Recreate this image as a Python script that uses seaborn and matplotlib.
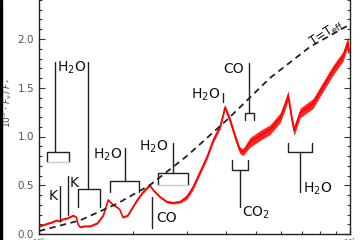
import numpy as np
import pandas as pd
import matplotlib
matplotlib.use("Agg")
import matplotlib.pyplot as plt
import seaborn as sns
from matplotlib.ticker import MultipleLocator, NullFormatter, FormatStrFormatter

# ---- data ----
spec_wl = [1.005, 1.05, 1.10, 1.14, 1.168, 1.19, 1.23, 1.27, 1.29, 1.32, 1.335, 1.355,
           1.40, 1.46, 1.54, 1.61, 1.67, 1.73, 1.79, 1.82, 1.86, 1.93, 2.07, 2.16,
           2.27, 2.33, 2.45, 2.58, 2.70, 2.84, 2.99, 3.13, 3.29, 3.47, 3.63, 3.82,
           3.91, 3.96, 4.11, 4.27, 4.42, 4.53, 4.77, 5.14, 5.53, 5.96, 6.18, 6.32,
           6.51, 6.61, 6.91, 7.61, 8.19, 8.82, 9.49, 9.85, 9.92]
spec_flux = [0.08, 0.10, 0.12, 0.14, 0.13, 0.15, 0.16, 0.18, 0.19, 0.17, 0.10, 0.07,
             0.08, 0.08, 0.11, 0.19, 0.35, 0.30, 0.27, 0.25, 0.17, 0.19, 0.35, 0.43,
             0.50, 0.45, 0.38, 0.33, 0.32, 0.33, 0.38, 0.48, 0.63, 0.79, 0.96, 1.10,
             1.22, 1.30, 1.17, 1.00, 0.86, 0.84, 0.94, 1.01, 1.07, 1.19, 1.32, 1.42,
             1.17, 1.06, 1.24, 1.34, 1.51, 1.68, 1.82, 1.97, 1.86]
spec_noise = [0.008] * 22 + [0.012] * 8 + [0.025] * 8 + [0.035] * 4 + [0.05] * 15

teff_wl = [1.0, 1.355, 1.78, 2.27, 2.99, 4.02, 5.53, 7.44, 10.0]
teff_val = [0.03, 0.14, 0.31, 0.50, 0.80, 1.17, 1.60, 1.92, 2.15]

# annotations: (left, right, bar, leg end, stem x, stem end)
brackets = [
    (1.061, 1.249, 0.84, 0.74, 1.126, 1.76),
    (1.335, 1.571, 0.46, 0.28, 1.437, 1.76),
    (1.69, 2.10, 0.54, 0.43, 1.89, 0.88),
    (2.41, 3.01, 0.63, 0.50, 2.70, 0.93),
    (4.59, 4.91, 1.24, 1.17, 4.73, 1.75),
    (4.17, 4.69, 0.66, 0.76, 4.42, 0.28),
    (6.33, 7.55, 0.84, 0.93, 6.90, 0.43),
]
gray_bottom = [0, 3]
lines = [(1.168, 0.13, 0.49), (1.24, 0.19, 0.59), (2.31, 0.06, 0.38), (3.91, 1.35, 1.45)]
labels = [
    ("H$_2$O", 1.277, 1.70, "center"),
    ("K", 1.109, 0.39, "center"),
    ("K", 1.296, 0.52, "center"),
    ("H$_2$O", 1.85, 0.81, "right"),
    ("CO", 2.38, 0.16, "left"),
    ("H$_2$O", 2.60, 0.89, "right"),
    ("H$_2$O", 3.82, 1.43, "right"),
    ("CO", 4.56, 1.69, "right"),
    ("CO$_2$", 4.49, 0.22, "left"),
    ("H$_2$O", 7.06, 0.46, "left"),
]

sns.set_style("ticks")
plt.rcParams['font.family'] = ['DejaVu Sans']

fig = plt.figure(figsize=(3.6, 2.4), dpi=100)
ax = fig.add_axes([39 / 360, 6 / 240, 311 / 360, 234 / 240])

df = pd.DataFrame({"wl": spec_wl, "flux": spec_flux})
lo = np.array(spec_flux) - np.array(spec_noise)
hi = np.array(spec_flux) + np.array(spec_noise)
ax.fill_between(spec_wl, lo, hi, color="red", lw=0, alpha=0.85)
sns.lineplot(data=df, x="wl", y="flux", color="red", lw=1.1, ax=ax, sort=False)
tdf = pd.DataFrame({"wl": teff_wl, "v": teff_val})
sns.lineplot(data=tdf, x="wl", y="v", color="#222222", lw=1.3, ls=(0, (3.5, 2.5)), ax=ax)

for i, (x0, x1, yb, yl, xs, ys) in enumerate(brackets):
    ax.plot([x0, x0, x1, x1], [yl, yb, yb, yl], color="#222222", lw=1.0)
    ax.plot([xs, xs], [yb, ys], color="#222222", lw=1.0)
    if i in gray_bottom:
        ax.plot([x0, x1], [yl, yl], color="#cccccc", lw=1.0)
for xs, y0, y1 in lines:
    ax.plot([xs, xs], [y0, y1], color="#222222", lw=1.0)
for t, x, y, ha in labels:
    ax.text(x, y, t, ha=ha, va="center", fontsize=10, color="#111111")
ax.text(8.43, 2.06, "T=T$_{\\rm eff}$", rotation=33, ha="center", va="center",
        fontsize=8.5, color="#111111", rotation_mode="anchor")

ax.set_xscale("log")
ax.set_xlim(1, 10)
ax.set_ylim(0, 2.4)
ax.set_xlabel("")
ax.set_ylabel("10$^3$ $\\cdot$ $F_\\nu\\, /\\, F_*$", fontsize=6.5, color="#444444")
ax.yaxis.set_label_coords(-0.08, 0.56)
ax.yaxis.set_major_locator(MultipleLocator(0.5))
ax.yaxis.set_minor_locator(MultipleLocator(0.1))
ax.yaxis.set_major_formatter(FormatStrFormatter("%.1f"))
ax.xaxis.set_minor_formatter(NullFormatter())
ax.tick_params(axis="both", which="both", direction="in", right=True, colors="#333333",
               labelcolor="#555555", labelsize=7.5, width=0.8)
ax.tick_params(axis="x", which="major", labelsize=5, pad=2)
ax.tick_params(which="major", length=4)
ax.tick_params(which="minor", length=2.5)
for s in ["left", "right", "bottom"]:
    ax.spines[s].set_color("#222222")
    ax.spines[s].set_linewidth(1.0)
ax.spines["top"].set_visible(False)

fig.patches.append(plt.Rectangle((0, 0), 2 / 360, 1, transform=fig.transFigure,
                                 color="black", zorder=10))
fig.savefig("out.png", dpi=100)
